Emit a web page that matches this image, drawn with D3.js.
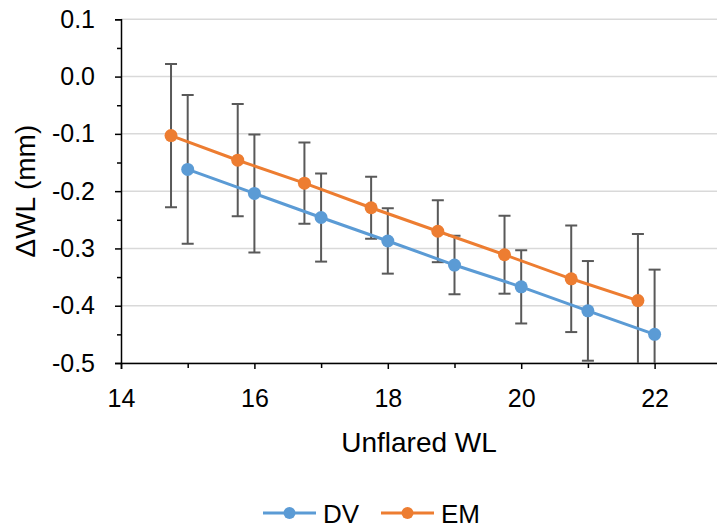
<!DOCTYPE html>
<html>
<head>
<meta charset="utf-8">
<script src="https://cdn.jsdelivr.net/npm/d3@7"></script>
<style>
  html, body { margin: 0; padding: 0; background: #fff; }
  svg { display: block; font-family: "Liberation Sans", Arial, sans-serif; }
</style>
</head>
<body>
<svg id="chart" width="717" height="531"></svg>
<script>
// Unflared working length vs. change in working length, two methods
const dvX = [15, 16, 17, 18, 19, 20, 21, 22];
const dvY = [-0.162, -0.204, -0.246, -0.287, -0.329, -0.367, -0.409, -0.450];
const dvErr = [0.130, 0.103, 0.077, 0.057, 0.051, 0.064, 0.087, 0.113];

const emX = [14.75, 15.75, 16.75, 17.75, 18.75, 19.75, 20.75, 21.75];
const emY = [-0.103, -0.146, -0.186, -0.229, -0.270, -0.311, -0.353, -0.391];
const emErr = [0.125, 0.098, 0.071, 0.054, 0.054, 0.068, 0.093, 0.116];

const xTicks = [14, 16, 18, 20, 22];
const xMinorTicks = [15, 17, 19, 21];
const yTicks = [0.1, 0.0, -0.1, -0.2, -0.3, -0.4, -0.5];
const yMinorTicks = [0.05, -0.05, -0.15, -0.25, -0.35, -0.45];

const seriesNames = ["DV", "EM"];
const seriesColors = ["#5B9BD5", "#ED7D31"];

const svg = d3.select("#chart");

const x = d3.scaleLinear().domain([14, 23]).range([121, 721.3]);
const y = d3.scaleLinear().domain([-0.5, 0.1]).range([363, 19.3]);

const fmt = v => d3.format(".1f")(v).replace("\u2212", "-");

// plot-area clip
svg.append("defs").append("clipPath").attr("id", "plot")
  .append("rect").attr("x", x(14)).attr("y", y(0.1) - 1)
  .attr("width", 717 - x(14)).attr("height", y(-0.5) - y(0.1) + 1);

// horizontal gridlines
svg.append("g").selectAll("line").data(yTicks).join("line")
  .attr("x1", x(14)).attr("x2", 717)
  .attr("y1", d => y(d)).attr("y2", d => y(d))
  .attr("stroke", "#d9d9d9").attr("stroke-width", 1.5);

// axes
const yAxis = d3.axisLeft(y).tickValues(yTicks).tickFormat(fmt).tickSize(6).tickPadding(20);
svg.append("g").attr("transform", `translate(${x(14)},0)`).call(yAxis);
const yMinor = d3.axisLeft(y).tickValues(yMinorTicks).tickFormat("").tickSize(4);
svg.append("g").attr("transform", `translate(${x(14)},0)`).call(yMinor).select(".domain").remove();

const xAxis = d3.axisBottom(x).tickValues(xTicks).tickFormat(d3.format("d")).tickSize(6).tickPadding(20);
svg.append("g").attr("transform", `translate(0,${y(-0.5)})`).call(xAxis);
const xMinor = d3.axisBottom(x).tickValues(xMinorTicks).tickFormat("").tickSize(5);
svg.append("g").attr("transform", `translate(0,${y(-0.5)})`).call(xMinor).select(".domain").remove();

svg.selectAll(".domain").attr("stroke", "#000").attr("stroke-width", 1.5);
svg.selectAll(".tick line").attr("stroke", "#000").attr("stroke-width", 1.5);
svg.selectAll(".tick text").attr("fill", "#000").style("font-size", "25px")
  .style("font-family", "'Liberation Sans', Arial, sans-serif");

// axis titles
svg.append("text").attr("x", x(14) + (717 - x(14)) / 2).attr("y", 452)
  .attr("text-anchor", "middle").style("font-size", "28px").text("Unflared WL");
svg.append("text").attr("transform", `translate(35,${(y(0.1) + y(-0.5)) / 2}) rotate(-90)`)
  .attr("text-anchor", "middle").style("font-size", "28px").text("\u0394WL (mm)");

// series
const series = [
  { name: seriesNames[0], color: seriesColors[0], pts: dvX.map((v, i) => ({ x: v, y: dvY[i], e: dvErr[i] })) },
  { name: seriesNames[1], color: seriesColors[1], pts: emX.map((v, i) => ({ x: v, y: emY[i], e: emErr[i] })) }
];

const plot = svg.append("g").attr("clip-path", "url(#plot)");
const line = d3.line().x(d => x(d.x)).y(d => y(d.y));

series.forEach(s => {
  const g = plot.append("g");
  // error bars
  const eb = g.append("g").selectAll("g").data(s.pts).join("g");
  eb.append("line").attr("x1", d => x(d.x)).attr("x2", d => x(d.x))
    .attr("y1", d => y(d.y + d.e)).attr("y2", d => y(d.y - d.e))
    .attr("stroke", "#595959").attr("stroke-width", 2);
  eb.selectAll("line.cap").data(d => [d.y + d.e, d.y - d.e].map(v => ({ x: d.x, v }))).join("line")
    .attr("class", "cap")
    .attr("x1", d => x(d.x) - 6).attr("x2", d => x(d.x) + 6)
    .attr("y1", d => y(d.v)).attr("y2", d => y(d.v))
    .attr("stroke", "#595959").attr("stroke-width", 2);
});

series.forEach(s => {
  const g = plot.append("g");
  g.append("path").datum(s.pts).attr("d", line)
    .attr("fill", "none").attr("stroke", s.color).attr("stroke-width", 3);
  g.selectAll("circle").data(s.pts).join("circle")
    .attr("cx", d => x(d.x)).attr("cy", d => y(d.y)).attr("r", 6.5)
    .attr("fill", s.color);
});

// legend
const legendItems = [
  { name: seriesNames[0], color: seriesColors[0], x0: 263 },
  { name: seriesNames[1], color: seriesColors[1], x0: 381 }
];
const lg = svg.append("g").selectAll("g").data(legendItems).join("g")
  .attr("transform", d => `translate(${d.x0},513)`);
lg.append("line").attr("x1", 0).attr("x2", 53).attr("y1", 0).attr("y2", 0)
  .attr("stroke", d => d.color).attr("stroke-width", 3);
lg.append("circle").attr("cx", 26.5).attr("cy", 0).attr("r", 6).attr("fill", d => d.color);
lg.append("text").attr("x", 60).attr("y", 9.5).style("font-size", "26px").attr("fill", "#000")
  .text(d => d.name);
</script>
</body>
</html>
